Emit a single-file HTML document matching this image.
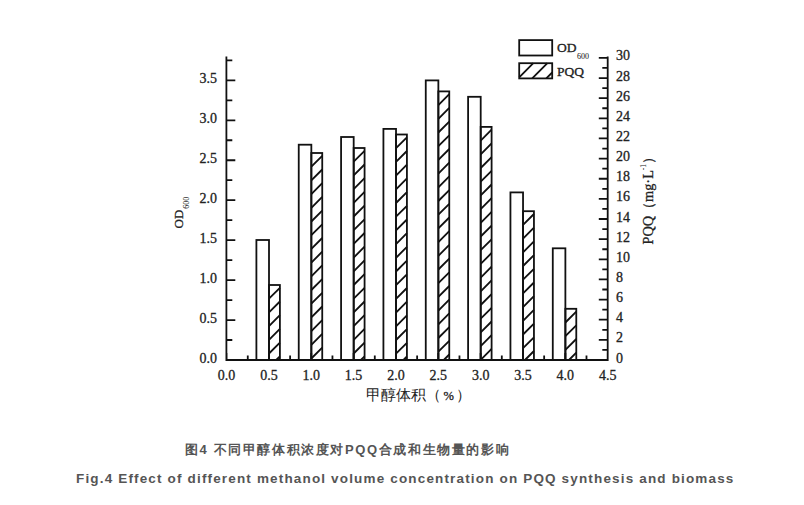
<!DOCTYPE html>
<html><head><meta charset="utf-8"><style>
html,body{margin:0;padding:0;background:#fff;width:804px;height:505px;overflow:hidden}
svg{display:block}
</style></head><body><svg width="804" height="505" viewBox="0 0 804 505"><rect x="256.40" y="240.00" width="12.60" height="120.00" fill="#fff" stroke="#111" stroke-width="1.8"/><path d="M269.00,298.70L279.90,287.80M269.00,312.40L279.90,301.50M269.00,326.10L279.90,315.20M269.00,339.80L279.90,328.90M269.00,353.50L279.90,342.60M276.20,360.00L279.90,356.30" stroke="#111" stroke-width="1.85" fill="none"/><rect x="269.00" y="285.00" width="10.90" height="75.00" fill="none" stroke="#111" stroke-width="1.8"/><rect x="298.74" y="144.70" width="12.60" height="215.30" fill="#fff" stroke="#111" stroke-width="1.8"/><path d="M311.34,166.70L322.24,155.80M311.34,180.40L322.24,169.50M311.34,194.10L322.24,183.20M311.34,207.80L322.24,196.90M311.34,221.50L322.24,210.60M311.34,235.20L322.24,224.30M311.34,248.90L322.24,238.00M311.34,262.60L322.24,251.70M311.34,276.30L322.24,265.40M311.34,290.00L322.24,279.10M311.34,303.70L322.24,292.80M311.34,317.40L322.24,306.50M311.34,331.10L322.24,320.20M311.34,344.80L322.24,333.90M311.34,358.50L322.24,347.60" stroke="#111" stroke-width="1.85" fill="none"/><rect x="311.34" y="153.00" width="10.90" height="207.00" fill="none" stroke="#111" stroke-width="1.8"/><rect x="341.08" y="137.00" width="12.60" height="223.00" fill="#fff" stroke="#111" stroke-width="1.8"/><path d="M353.68,161.70L364.58,150.80M353.68,175.40L364.58,164.50M353.68,189.10L364.58,178.20M353.68,202.80L364.58,191.90M353.68,216.50L364.58,205.60M353.68,230.20L364.58,219.30M353.68,243.90L364.58,233.00M353.68,257.60L364.58,246.70M353.68,271.30L364.58,260.40M353.68,285.00L364.58,274.10M353.68,298.70L364.58,287.80M353.68,312.40L364.58,301.50M353.68,326.10L364.58,315.20M353.68,339.80L364.58,328.90M353.68,353.50L364.58,342.60M360.88,360.00L364.58,356.30" stroke="#111" stroke-width="1.85" fill="none"/><rect x="353.68" y="148.00" width="10.90" height="212.00" fill="none" stroke="#111" stroke-width="1.8"/><rect x="383.42" y="128.90" width="12.60" height="231.10" fill="#fff" stroke="#111" stroke-width="1.8"/><path d="M396.02,148.20L406.92,137.30M396.02,161.90L406.92,151.00M396.02,175.60L406.92,164.70M396.02,189.30L406.92,178.40M396.02,203.00L406.92,192.10M396.02,216.70L406.92,205.80M396.02,230.40L406.92,219.50M396.02,244.10L406.92,233.20M396.02,257.80L406.92,246.90M396.02,271.50L406.92,260.60M396.02,285.20L406.92,274.30M396.02,298.90L406.92,288.00M396.02,312.60L406.92,301.70M396.02,326.30L406.92,315.40M396.02,340.00L406.92,329.10M396.02,353.70L406.92,342.80M403.42,360.00L406.92,356.50" stroke="#111" stroke-width="1.85" fill="none"/><rect x="396.02" y="134.50" width="10.90" height="225.50" fill="none" stroke="#111" stroke-width="1.8"/><rect x="425.76" y="80.40" width="12.60" height="279.60" fill="#fff" stroke="#111" stroke-width="1.8"/><path d="M438.36,105.10L449.26,94.20M438.36,118.80L449.26,107.90M438.36,132.50L449.26,121.60M438.36,146.20L449.26,135.30M438.36,159.90L449.26,149.00M438.36,173.60L449.26,162.70M438.36,187.30L449.26,176.40M438.36,201.00L449.26,190.10M438.36,214.70L449.26,203.80M438.36,228.40L449.26,217.50M438.36,242.10L449.26,231.20M438.36,255.80L449.26,244.90M438.36,269.50L449.26,258.60M438.36,283.20L449.26,272.30M438.36,296.90L449.26,286.00M438.36,310.60L449.26,299.70M438.36,324.30L449.26,313.40M438.36,338.00L449.26,327.10M438.36,351.70L449.26,340.80M443.76,360.00L449.26,354.50" stroke="#111" stroke-width="1.85" fill="none"/><rect x="438.36" y="91.40" width="10.90" height="268.60" fill="none" stroke="#111" stroke-width="1.8"/><rect x="468.10" y="96.80" width="12.60" height="263.20" fill="#fff" stroke="#111" stroke-width="1.8"/><path d="M480.70,140.60L491.60,129.70M480.70,154.30L491.60,143.40M480.70,168.00L491.60,157.10M480.70,181.70L491.60,170.80M480.70,195.40L491.60,184.50M480.70,209.10L491.60,198.20M480.70,222.80L491.60,211.90M480.70,236.50L491.60,225.60M480.70,250.20L491.60,239.30M480.70,263.90L491.60,253.00M480.70,277.60L491.60,266.70M480.70,291.30L491.60,280.40M480.70,305.00L491.60,294.10M480.70,318.70L491.60,307.80M480.70,332.40L491.60,321.50M480.70,346.10L491.60,335.20M480.70,359.80L491.60,348.90" stroke="#111" stroke-width="1.85" fill="none"/><rect x="480.70" y="126.90" width="10.90" height="233.10" fill="none" stroke="#111" stroke-width="1.8"/><rect x="510.44" y="192.40" width="12.60" height="167.60" fill="#fff" stroke="#111" stroke-width="1.8"/><path d="M523.04,224.90L533.94,214.00M523.04,238.60L533.94,227.70M523.04,252.30L533.94,241.40M523.04,266.00L533.94,255.10M523.04,279.70L533.94,268.80M523.04,293.40L533.94,282.50M523.04,307.10L533.94,296.20M523.04,320.80L533.94,309.90M523.04,334.50L533.94,323.60M523.04,348.20L533.94,337.30M524.94,360.00L533.94,351.00" stroke="#111" stroke-width="1.85" fill="none"/><rect x="523.04" y="211.20" width="10.90" height="148.80" fill="none" stroke="#111" stroke-width="1.8"/><rect x="552.78" y="248.30" width="12.60" height="111.70" fill="#fff" stroke="#111" stroke-width="1.8"/><path d="M565.38,322.50L576.28,311.60M565.38,336.20L576.28,325.30M565.38,349.90L576.28,339.00M568.98,360.00L576.28,352.70" stroke="#111" stroke-width="1.85" fill="none"/><rect x="565.38" y="308.80" width="10.90" height="51.20" fill="none" stroke="#111" stroke-width="1.8"/><path d="M226.4,57.3 L226.4,360.0 L607.7,360.0 L607.7,57.3 M226.4,360.00 h8 M226.4,340.02 h5 M226.4,320.05 h8 M226.4,300.07 h5 M226.4,280.10 h8 M226.4,260.12 h5 M226.4,240.15 h8 M226.4,220.17 h5 M226.4,200.20 h8 M226.4,180.22 h5 M226.4,160.25 h8 M226.4,140.27 h5 M226.4,120.30 h8 M226.4,100.32 h5 M226.4,80.35 h8 M226.4,60.38 h5 M607.7,360.00 h-8 M607.7,349.93 h-4.5 M607.7,339.86 h-8 M607.7,329.79 h-4.5 M607.7,319.72 h-8 M607.7,309.65 h-4.5 M607.7,299.58 h-8 M607.7,289.51 h-4.5 M607.7,279.44 h-8 M607.7,269.37 h-4.5 M607.7,259.30 h-8 M607.7,249.23 h-4.5 M607.7,239.16 h-8 M607.7,229.09 h-4.5 M607.7,219.02 h-8 M607.7,208.95 h-4.5 M607.7,198.88 h-8 M607.7,188.81 h-4.5 M607.7,178.74 h-8 M607.7,168.67 h-4.5 M607.7,158.60 h-8 M607.7,148.53 h-4.5 M607.7,138.46 h-8 M607.7,128.39 h-4.5 M607.7,118.32 h-8 M607.7,108.25 h-4.5 M607.7,98.18 h-8 M607.7,88.11 h-4.5 M607.7,78.04 h-8 M607.7,67.97 h-4.5 M607.7,57.90 h-8 M226.60,360.0 v-6 M247.77,360.0 v-3.5 M268.94,360.0 v-6 M290.11,360.0 v-3.5 M311.28,360.0 v-6 M332.45,360.0 v-3.5 M353.62,360.0 v-6 M374.79,360.0 v-3.5 M395.96,360.0 v-6 M417.13,360.0 v-3.5 M438.30,360.0 v-6 M459.47,360.0 v-3.5 M480.64,360.0 v-6 M501.81,360.0 v-3.5 M522.98,360.0 v-6 M544.15,360.0 v-3.5 M565.32,360.0 v-6 M586.49,360.0 v-3.5 M607.66,360.0 v-6" fill="none" stroke="#111" stroke-width="1.8" stroke-linecap="square"/><g font-family="Liberation Serif" fill="#222" stroke="#222" stroke-width="0.3" font-size="14"><text x="217" y="362.50" text-anchor="end">0.0</text><text x="217" y="322.55" text-anchor="end">0.5</text><text x="217" y="282.60" text-anchor="end">1.0</text><text x="217" y="242.65" text-anchor="end">1.5</text><text x="217" y="202.70" text-anchor="end">2.0</text><text x="217" y="162.75" text-anchor="end">2.5</text><text x="217" y="122.80" text-anchor="end">3.0</text><text x="217" y="82.85" text-anchor="end">3.5</text><text x="616" y="362.50">0</text><text x="616" y="342.36">2</text><text x="616" y="322.22">4</text><text x="616" y="302.08">6</text><text x="616" y="281.94">8</text><text x="616" y="261.80">10</text><text x="616" y="241.66">12</text><text x="616" y="221.52">14</text><text x="616" y="201.38">16</text><text x="616" y="181.24">18</text><text x="616" y="161.10">20</text><text x="616" y="140.96">22</text><text x="616" y="120.82">24</text><text x="616" y="100.68">26</text><text x="616" y="80.54">28</text><text x="616" y="60.40">30</text><text x="226.60" y="379.5" text-anchor="middle">0.0</text><text x="268.94" y="379.5" text-anchor="middle">0.5</text><text x="311.28" y="379.5" text-anchor="middle">1.0</text><text x="353.62" y="379.5" text-anchor="middle">1.5</text><text x="395.96" y="379.5" text-anchor="middle">2.0</text><text x="438.30" y="379.5" text-anchor="middle">2.5</text><text x="480.64" y="379.5" text-anchor="middle">3.0</text><text x="522.98" y="379.5" text-anchor="middle">3.5</text><text x="565.32" y="379.5" text-anchor="middle">4.0</text><text x="607.66" y="379.5" text-anchor="middle">4.5</text></g><rect x="519.2" y="40.1" width="33" height="15.4" fill="#fff" stroke="#111" stroke-width="1.8"/><path d="M519.20,77.30L533.30,63.20M532.20,78.40L547.40,63.20M546.30,78.40L552.20,72.50" stroke="#111" stroke-width="1.85" fill="none"/><rect x="519.2" y="63.2" width="33" height="15.2" fill="none" stroke="#111" stroke-width="1.8"/><text font-family="Liberation Serif" fill="#222" stroke="#222" stroke-width="0.3" font-size="13.5" x="557" y="52.3">OD<tspan font-size="8" y="58.6" dx="0.5" stroke-width="0.05">600</tspan></text><text font-family="Liberation Serif" fill="#222" stroke="#222" stroke-width="0.3" font-size="13.5" x="557" y="76.3">PQQ</text><text font-family="Liberation Serif" fill="#222" stroke="#222" stroke-width="0.3" font-size="13" transform="translate(183.2,228.5) rotate(-90)">OD<tspan font-size="8" dy="5.5" dx="1" stroke-width="0.05">600</tspan></text><text font-family="Liberation Serif" fill="#222" stroke="#222" stroke-width="0.3" font-size="14.3" transform="translate(653,244.5) rotate(-90)">PQQ（mg·L<tspan font-size="7.5" dy="-7.5" stroke-width="0.05">-1</tspan><tspan dy="7.5">）</tspan></text><text font-family="Liberation Serif" fill="#222" font-size="15" x="366" y="400">甲醇体积（</text><text font-family="Liberation Serif" fill="#222" stroke="#222" stroke-width="0.3" font-size="12.5" x="443.5" y="400">%</text><text font-family="Liberation Serif" fill="#222" font-size="15" x="456" y="400">）</text><text font-family="Liberation Sans" font-weight="bold" fill="#555" font-size="13" x="185" y="453.5" letter-spacing="1.6">图4 不同甲醇体积浓度对PQQ合成和生物量的影响</text><text font-family="Liberation Sans" font-weight="bold" fill="#555" font-size="13.5" x="76" y="482.5" letter-spacing="1.16">Fig.4 Effect of different methanol volume concentration on PQQ synthesis and biomass</text></svg></body></html>
